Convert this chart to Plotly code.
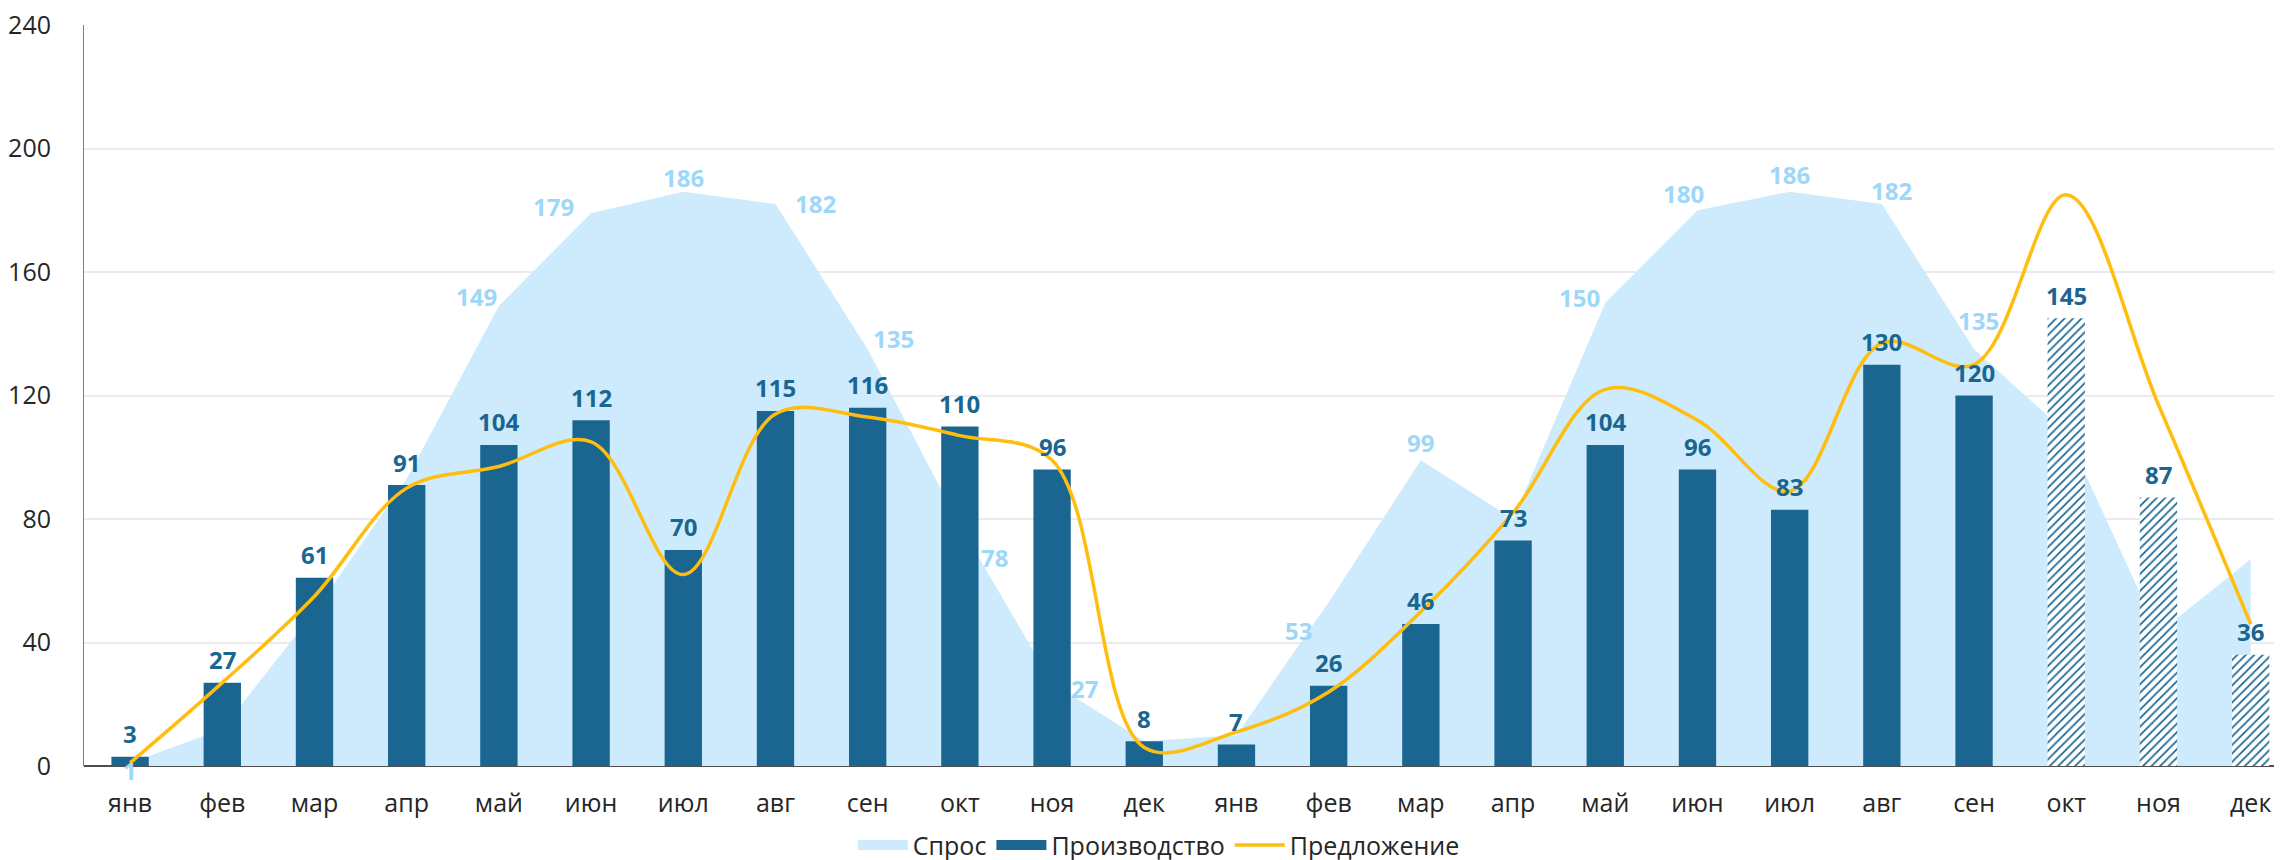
import plotly.graph_objects as go

# категории (два года помесячно)
months = ["янв", "фев", "мар", "апр", "май", "июн", "июл", "авг", "сен", "окт", "ноя", "дек",
          "янв", "фев", "мар", "апр", "май", "июн", "июл", "авг", "сен", "окт", "ноя", "дек"]

# Спрос (область)
demand = [1, 12, 50, 93, 149, 179, 186, 182, 135, 78, 27, 8,
          10, 53, 99, 80, 150, 180, 186, 182, 135, 108, 43, 67]

# Производство (столбцы)
production = [3, 27, 61, 91, 104, 112, 70, 115, 116, 110, 96, 8,
              7, 26, 46, 73, 104, 96, 83, 130, 120, 145, 87, 36]

# Предложение (сглаженная линия)
supply = [1, 27, 55, 90, 97, 105, 62, 114, 113, 107, 99, 6,
          11, 24, 50, 82, 122, 112, 89, 137, 130, 185, 117, 46]

# подписи спроса, которые видны на графике
demand_labels_shown = [0, 4, 5, 6, 7, 8, 9, 10, 13, 14, 16, 17, 18, 19, 20]

n_forecast = 3  # последние месяцы - прогноз (штриховка)

DARK = "#1B6591"
LIGHT = "#CDEBFC"
LIGHT_TXT = "#9DD7FA"
GOLD = "#FFBE0F"
FONT = "Open Sans"

x = list(range(len(months)))
n = len(months)

# смещения подписей спроса (px) относительно точки
label_shift = {
    0: (0, -8), 4: (-22, 9), 5: (-38, 7), 6: (0, 14), 7: (40, 1), 8: (26, 11),
    9: (35, -32), 10: (32, -6), 13: (-30, -28), 14: (0, 18), 16: (-26, 5),
    17: (-14, 17), 18: (0, 17), 19: (10, 14), 20: (4, 29),
}

pattern_shapes = [""] * (n - n_forecast) + ["/"] * n_forecast

area_trace = go.Scatter(
    x=x, y=demand, name="Спрос", showlegend=False,
    mode="none", fill="tozeroy", fillcolor=LIGHT,
    xaxis="x", yaxis="y", hoverinfo="y",
)

bar_trace = go.Bar(
    x=x, y=production, name="Производство", showlegend=False,
    width=0.405,
    marker=dict(
        color=DARK, line=dict(width=0),
        pattern=dict(shape=pattern_shapes, fgcolor=DARK, bgcolor="white",
                     size=6, solidity=0.28, fillmode="replace"),
    ),
    xaxis="x", yaxis="y2",
)

line_trace = go.Scatter(
    x=x, y=supply, name="Предложение", showlegend=False,
    mode="lines", line=dict(color=GOLD, width=3.5, shape="spline", smoothing=1),
    xaxis="x", yaxis="y2",
)

# легенда: прямоугольные плашки как в оригинале
legend_traces = [
    go.Scatter(x=[None], y=[None], name="Спрос", mode="lines",
               line=dict(color=LIGHT, width=18), xaxis="x", yaxis="y2"),
    go.Scatter(x=[None], y=[None], name="Производство", mode="lines",
               line=dict(color=DARK, width=18), xaxis="x", yaxis="y2"),
    go.Scatter(x=[None], y=[None], name="Предложение", mode="lines",
               line=dict(color=GOLD, width=3.5), xaxis="x", yaxis="y2"),
]

fig = go.Figure(data=[area_trace, bar_trace, line_trace] + legend_traces)

annotations = []
for i, v in enumerate(production):
    annotations.append(dict(
        x=x[i], y=v, xref="x", yref="y", text=f"<b>{v}</b>",
        showarrow=False, yanchor="middle", xanchor="center", yshift=23,
        font=dict(family=FONT, size=24, color=DARK),
    ))
for i in demand_labels_shown:
    dx, dy = label_shift[i]
    annotations.append(dict(
        x=x[i], y=demand[i], xref="x", yref="y", text=f"<b>{demand[i]}</b>",
        showarrow=False, yanchor="middle", xanchor="center", xshift=dx, yshift=dy,
        font=dict(family=FONT, size=24, color=LIGHT_TXT),
    ))

# страница добавляет 8px отступа слева и сверху
fig.update_layout(
    width=2274, height=870,
    margin=dict(l=76, r=0, t=17, b=112),
    paper_bgcolor="white", plot_bgcolor="white",
    font=dict(family=FONT, size=25, color="#262626"),
    showlegend=True,
    legend=dict(orientation="h", x=0.489, xanchor="center", y=-0.107, yanchor="middle",
                font=dict(family=FONT, size=25, color="#262626"), traceorder="normal",
                itemwidth=50),
    xaxis=dict(
        range=[-0.5, 23.34], tickvals=x, ticktext=months,
        showgrid=False, zeroline=False, showline=False, ticks="",
        ticklabelstandoff=20, tickfont=dict(size=25), automargin=False,
        ticklabeloverflow="allow",
    ),
    yaxis=dict(
        range=[0, 240], dtick=40, showgrid=True, gridcolor="#EBEBEB", gridwidth=1.5,
        zeroline=True, zerolinecolor="#4D4D4D", zerolinewidth=2,
        showline=True, linecolor="#7F7F7F", linewidth=1, ticks="",
        ticklabelstandoff=27, tickfont=dict(size=25), automargin=False,
        ticklabeloverflow="allow",
    ),
    yaxis2=dict(range=[0, 240], overlaying="y", visible=False, showgrid=False),
    annotations=annotations,
)

fig.write_html("out.html")
